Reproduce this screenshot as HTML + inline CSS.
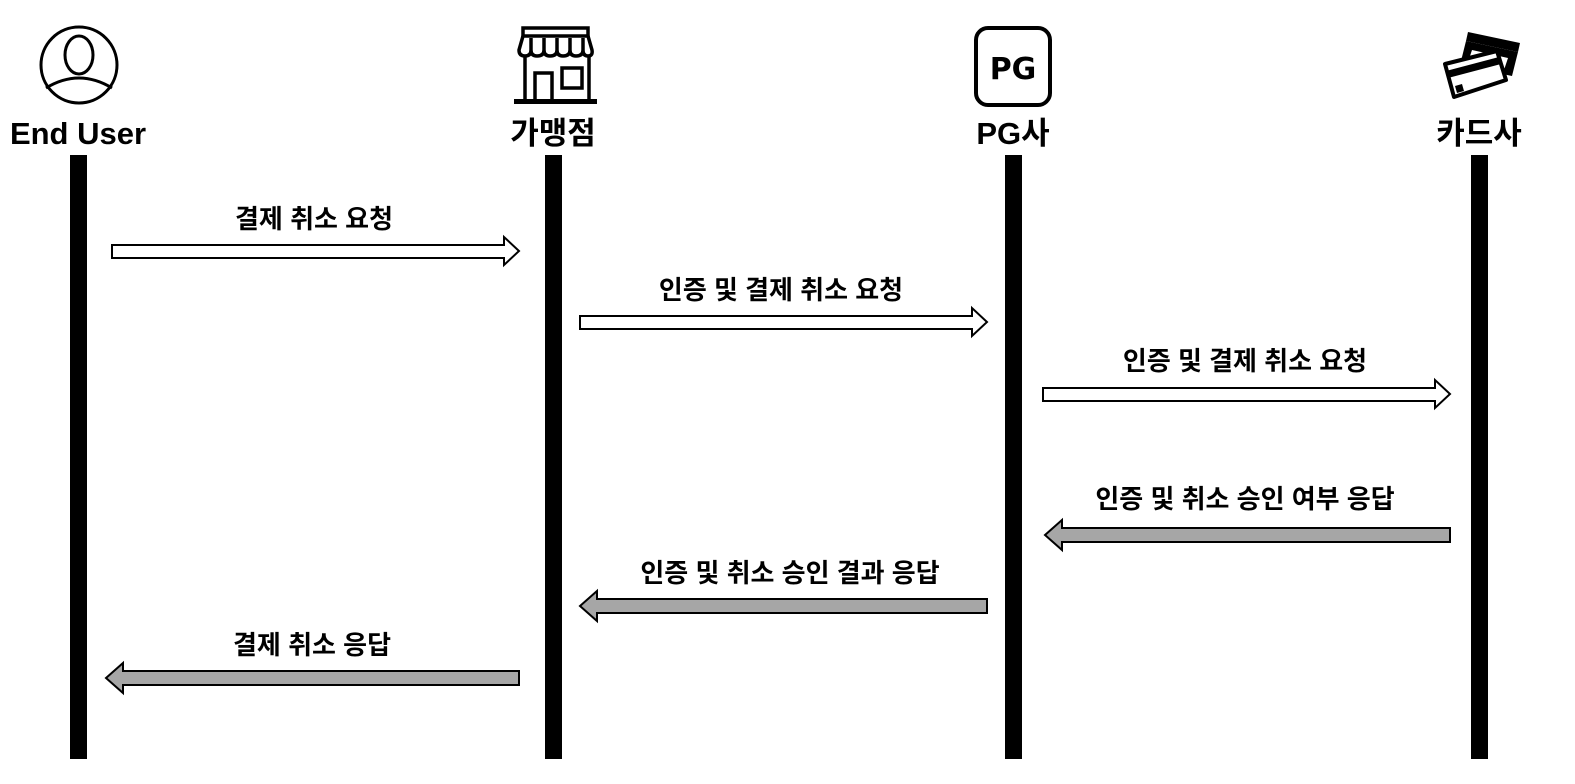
<!DOCTYPE html>
<html><head><meta charset="utf-8">
<style>
html,body{margin:0;padding:0;background:#fff;}
svg{display:block;}
text{font-family:"Liberation Sans","Noto Sans CJK KR","NanumGothic",sans-serif;font-weight:bold;fill:#000;}
</style></head>
<body>
<svg width="1575" height="784" viewBox="0 0 1575 784" xmlns="http://www.w3.org/2000/svg">
<!-- lifelines -->
<rect x="70" y="155" width="17" height="604" fill="#000"/>
<rect x="545" y="155" width="17" height="604" fill="#000"/>
<rect x="1005" y="155" width="17" height="604" fill="#000"/>
<rect x="1471" y="155" width="17" height="604" fill="#000"/>

<!-- headers -->
<text x="78" y="144" font-size="31" text-anchor="middle">End User</text>
<text x="553" y="144" font-size="31" text-anchor="middle">가맹점</text>
<text x="1013" y="144" font-size="31" text-anchor="middle">PG사</text>
<text x="1479" y="144" font-size="31" text-anchor="middle">카드사</text>

<!-- user icon -->
<g fill="none" stroke="#000" stroke-width="3">
<circle cx="79" cy="65" r="38"/>
<ellipse cx="79" cy="55" rx="14" ry="19"/>
<path d="M46 88 Q79 68 112 88"/>
</g>
<!-- store icon -->
<g fill="none" stroke="#000" stroke-width="3.5">
<rect x="523" y="28" width="65" height="8"/>
<path d="M523 36 L519 50 Q519 56 525 56 Q531 56 531 50 L531 38 M531 50 Q531 56 537 56 Q544 56 544 50 L544 38 M544 50 Q544 56 550 56 Q557 56 557 50 L557 38 M557 50 Q557 56 563 56 Q570 56 570 50 L570 38 M570 50 Q570 56 576 56 Q583 56 583 50 L583 38 M583 50 Q583 56 588 56 Q593 56 592 50 L588 36"/>
<path d="M525 56 V101 M589 56 V101"/>
<path d="M535 101 V73 H552 V101"/>
<rect x="562" y="68" width="20" height="20"/>
</g>
<rect x="514" y="99" width="83" height="5" fill="#000"/>
<!-- PG icon -->
<rect x="976" y="28" width="74" height="77" rx="12" fill="none" stroke="#000" stroke-width="4"/>
<text x="1013" y="79" font-size="30" text-anchor="middle" style="font-family:'DejaVu Sans',sans-serif">PG</text>
<!-- card icon -->
<polygon points="1468,32 1520,43 1518,52 1466,41" fill="#000"/>
<polygon points="1466,41 1518,52 1512,76 1460,65" fill="#000"/>
<polygon points="1472,50 1508,58 1504,70 1468,62" fill="#fff"/>
<polygon points="1445,64 1497,51 1506,80 1454,97" fill="#fff" stroke="#000" stroke-width="4" stroke-linejoin="round"/>
<polygon points="1446,71 1499,57 1501,64 1448,78" fill="#000"/>
<polygon points="1455,86 1462,84 1464,91 1457,93" fill="#000"/>

<!-- arrows -->
<g stroke="#000" stroke-width="2">
<polygon fill="#fff" points="112,245 504,245 504,237 519,251 504,265 504,258 112,258"/>
<polygon fill="#fff" points="580,316 972,316 972,308 987,322 972,336 972,329 580,329"/>
<polygon fill="#fff" points="1043,388 1435,388 1435,380 1450,394 1435,408 1435,401 1043,401"/>
<polygon fill="#a6a6a6" points="1450,528 1062,528 1062,520 1045,535 1062,550 1062,542 1450,542"/>
<polygon fill="#a6a6a6" points="987,599 597,599 597,591 580,606 597,621 597,613 987,613"/>
<polygon fill="#a6a6a6" points="519,671 123,671 123,663 106,678 123,693 123,685 519,685"/>
</g>

<!-- labels -->
<g font-size="26" text-anchor="middle">
<text x="314" y="228">결제 취소 요청</text>
<text x="781" y="299">인증 및 결제 취소 요청</text>
<text x="1245" y="370">인증 및 결제 취소 요청</text>
<text x="1245" y="508">인증 및 취소 승인 여부 응답</text>
<text x="790" y="582">인증 및 취소 승인 결과 응답</text>
<text x="312" y="654">결제 취소 응답</text>
</g>
</svg>
</body></html>
